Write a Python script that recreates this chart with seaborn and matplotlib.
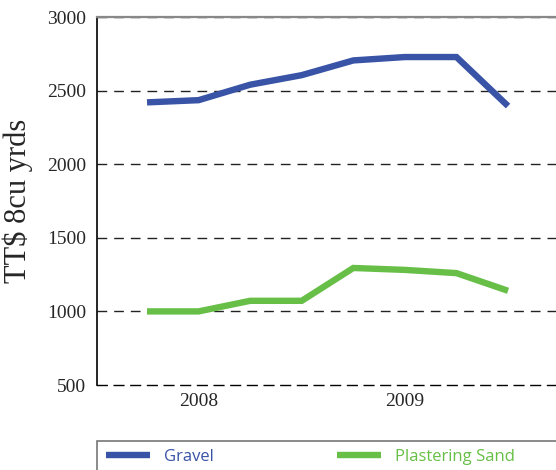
import matplotlib
matplotlib.use("Agg")
import matplotlib.pyplot as plt
from matplotlib.patches import Rectangle
import seaborn as sns
import pandas as pd

# Quarterly prices, TT$ per 8 cu yrds
quarters = ["Q4 2007", "Q1 2008", "Q2 2008", "Q3 2008",
            "Q4 2008", "Q1 2009", "Q2 2009", "Q3 2009"]
gravel = [2420, 2435, 2540, 2605, 2705, 2728, 2728, 2395]
plastering_sand = [1000, 1000, 1072, 1072, 1295, 1282, 1260, 1140]
series_names = ["Gravel", "Plastering Sand"]
series_colors = ["#3953A6", "#67BF47"]
year_labels = {1: "2008", 5: "2009"}
y_ticks = [500, 1000, 1500, 2000, 2500, 3000]

df = pd.DataFrame({
    "pos": list(range(len(quarters))) * 2,
    "price": gravel + plastering_sand,
    "series": [series_names[0]] * len(quarters) + [series_names[1]] * len(quarters),
})

sns.set_style("white")
serif = "Liberation Serif"

W, H = 556, 470
fig = plt.figure(figsize=(W / 100, H / 100), dpi=100)
ax = fig.add_axes([97 / W, 1 - 385 / H, 1 - 97 / W, (385 - 17) / H])

dash = (0, (7, 5))
for y in y_ticks[1:]:
    ax.axhline(y, color="#222222", lw=1.0, linestyle=dash, zorder=1)

sns.lineplot(data=df, x="pos", y="price", hue="series", palette=series_colors,
             lw=4.6, ax=ax, legend=False, zorder=3,
             solid_capstyle="butt", solid_joinstyle="miter")

ax.set_ylim(500, 3000)
ax.set_xlim(-0.97, 7.93)

ax.set_yticks(y_ticks)
ax.set_yticklabels([str(v) for v in y_ticks], fontfamily=serif, fontsize=14)
ax.tick_params(axis="y", length=0, pad=8)

short = [i for i in range(len(quarters)) if i not in (3, 7)]
ax.set_xticks(short)
ax.set_xticklabels([year_labels.get(i, "") for i in short], fontfamily=serif, fontsize=14)
ax.set_xticks([3, 7], minor=True)
ax.tick_params(axis="x", which="major", direction="in", length=5, width=1,
               color="black", pad=6)
ax.tick_params(axis="x", which="minor", direction="in", length=9, width=1,
               color="black")
ax.set_xlabel("")
ax.set_ylabel("TT$ 8cu yrds", fontfamily=serif, fontsize=22, labelpad=10)

ax.spines["right"].set_visible(False)
ax.spines["left"].set_color("black")
ax.spines["left"].set_linewidth(1.2)
ax.spines["bottom"].set_color("black")
ax.spines["bottom"].set_linewidth(1.0)
ax.spines["bottom"].set_linestyle(dash)
ax.spines["top"].set_color("#888888")
ax.spines["top"].set_linewidth(1.6)

# Legend box: open to the right and bottom edges of the figure
fig.add_artist(Rectangle((97 / W, -0.05), 1.0, 0.05 + (470 - 441) / H,
                         transform=fig.transFigure, fill=False,
                         edgecolor="#777777", lw=1.2))

handles = [plt.Line2D([], [], color=c, lw=4.6, solid_capstyle="butt")
           for c in series_colors]
leg = fig.legend(handles, series_names, loc="center left", ncol=2,
                 bbox_to_anchor=(106 / W, 1 - 457 / H),
                 bbox_transform=fig.transFigure, frameon=False,
                 handlelength=2.64, handletextpad=0.84, columnspacing=7.4,
                 borderaxespad=0, borderpad=0,
                 prop={"family": "Open Sans", "size": 12})
for txt, c in zip(leg.get_texts(), series_colors):
    txt.set_color(c)

fig.savefig("out.png", dpi=100)
